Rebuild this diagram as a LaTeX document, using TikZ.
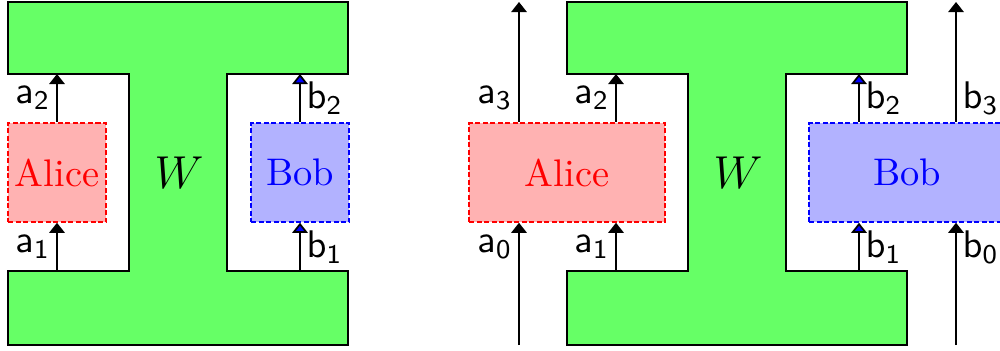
\documentclass[tikz,border=0pt]{standalone}
\usetikzlibrary{arrows.meta}
\begin{document}
\begin{tikzpicture}[x=0.26pt,y=-0.26pt,
  ishape/.style={draw=black, fill=green!60, line width=0.45pt},
  alicebox/.style={draw=red, dash pattern=on 1.3pt off 0.65pt, fill=red!30, text=red, inner sep=0pt, minimum height=99*0.26pt},
  bobbox/.style={draw=blue, dash pattern=on 1.3pt off 0.65pt, fill=blue!30, text=blue, inner sep=0pt, minimum height=99*0.26pt},
  wire/.style={draw=black, line width=0.45pt, -{Triangle[width=4pt,length=2.6pt]}},
  bwire/.style={draw=black, line width=0.45pt, -{Triangle[width=4pt,length=2.6pt,fill=blue]}},
  lab/.style={inner sep=1.5pt},
  wlab/.style={font=\large}]
\useasboundingbox (0,0) rectangle (1000,350);
% ---------- left diagram ----------
\draw[ishape] (8,2) -- (348,2) -- (348,74) -- (227,74) -- (227,271) -- (348,271) -- (348,345)
  -- (8,345) -- (8,271) -- (129,271) -- (129,74) -- (8,74) -- cycle;
\coordinate (LAin) at (57,271);
\coordinate (LAout) at (57,74);
\coordinate (LBin) at (300,271);
\coordinate (LBout) at (300,74);
\node[alicebox, minimum width=98*0.26pt] (LA) at (57,172.5) {Alice};
\node[bobbox, minimum width=98*0.26pt] (LB) at (300,172.5) {Bob};
\node[wlab] (LW) at (179,173) {$W$};
\draw[wire] (LAin) -- node[left, lab] {$\mathsf{a_1}$} (LA.south);
\draw[wire] (LA.north) -- node[left, lab] {$\mathsf{a_2}$} (LAout);
\draw[bwire] (LBin) -- node[right, lab] {$\mathsf{b_1}$} (LB.south);
\draw[bwire] (LB.north) -- node[right, lab] {$\mathsf{b_2}$} (LBout);
% ---------- right diagram ----------
\draw[ishape] (567,2) -- (907,2) -- (907,74) -- (786,74) -- (786,271) -- (907,271) -- (907,345)
  -- (567,345) -- (567,271) -- (688,271) -- (688,74) -- (567,74) -- cycle;
\coordinate (RAin) at (616,271);
\coordinate (RAout) at (616,74);
\coordinate (RBin) at (859,271);
\coordinate (RBout) at (859,74);
\coordinate (RA0) at (519,345);
\coordinate (RA3) at (519,2);
\coordinate (RB0) at (956,345);
\coordinate (RB3) at (956,2);
\node[alicebox, minimum width=196*0.26pt] (RA) at (567,172.5) {Alice};
\node[bobbox, minimum width=196*0.26pt] (RB) at (907,172.5) {Bob};
\node[wlab] (RW) at (738,173) {$W$};
\draw[wire] (RAin) -- node[left, lab] {$\mathsf{a_1}$} (RA.south -| RAin);
\draw[wire] (RA.north -| RAout) -- node[left, lab] {$\mathsf{a_2}$} (RAout);
\draw[wire] (RA0) -- node[left, lab, pos=0.8] {$\mathsf{a_0}$} (RA.south -| RA0);
\draw[wire] (RA.north -| RA3) -- node[left, lab, pos=0.2] {$\mathsf{a_3}$} (RA3);
\draw[bwire] (RBin) -- node[right, lab] {$\mathsf{b_1}$} (RB.south -| RBin);
\draw[bwire] (RB.north -| RBout) -- node[right, lab] {$\mathsf{b_2}$} (RBout);
\draw[wire] (RB0) -- node[right, lab, pos=0.8] {$\mathsf{b_0}$} (RB.south -| RB0);
\draw[wire] (RB.north -| RB3) -- node[right, lab, pos=0.2] {$\mathsf{b_3}$} (RB3);
\end{tikzpicture}
\end{document}
